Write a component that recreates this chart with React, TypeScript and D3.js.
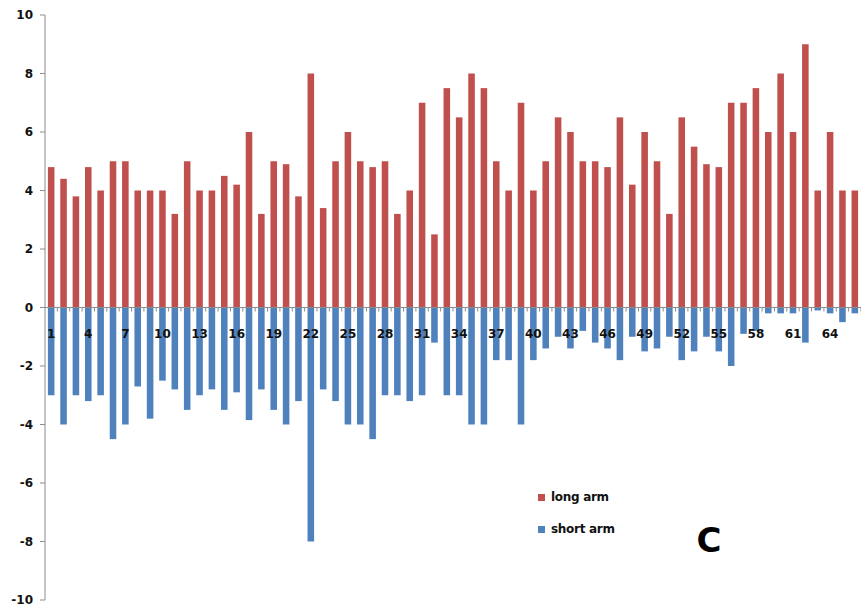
import React from "react";
import * as d3 from "d3";

const categories: number[] = Array.from({ length: 66 }, (_, i) => i + 1);

const longArm: number[] = [
  4.8, 4.4, 3.8, 4.8, 4.0, 5.0, 5.0, 4.0, 4.0, 4.0,
  3.2, 5.0, 4.0, 4.0, 4.5, 4.2, 6.0, 3.2, 5.0, 4.9,
  3.8, 8.0, 3.4, 5.0, 6.0, 5.0, 4.8, 5.0, 3.2, 4.0,
  7.0, 2.5, 7.5, 6.5, 8.0, 7.5, 5.0, 4.0, 7.0, 4.0,
  5.0, 6.5, 6.0, 5.0, 5.0, 4.8, 6.5, 4.2, 6.0, 5.0,
  3.2, 6.5, 5.5, 4.9, 4.8, 7.0, 7.0, 7.5, 6.0, 8.0,
  6.0, 9.0, 4.0, 6.0, 4.0, 4.0,
];

const shortArm: number[] = [
  -3.0, -4.0, -3.0, -3.2, -3.0, -4.5, -4.0, -2.7, -3.8, -2.5,
  -2.8, -3.5, -3.0, -2.8, -3.5, -2.9, -3.85, -2.8, -3.5, -4.0,
  -3.2, -8.0, -2.8, -3.2, -4.0, -4.0, -4.5, -3.0, -3.0, -3.2,
  -3.0, -1.2, -3.0, -3.0, -4.0, -4.0, -1.8, -1.8, -4.0, -1.8,
  -1.4, -1.0, -1.4, -0.8, -1.2, -1.4, -1.8, -1.0, -1.5, -1.4,
  -1.0, -1.8, -1.5, -1.0, -1.5, -2.0, -0.9, -0.8, -0.2, -0.2,
  -0.2, -1.2, -0.1, -0.2, -0.5, -0.2,
];

const yTicks: number[] = [-10, -8, -6, -4, -2, 0, 2, 4, 6, 8, 10];
const xLabelEvery = 3;

const seriesNames = ["long arm", "short arm"];
const seriesColors = ["#C0504D", "#4F81BD"];
const panelLetter = "C";

const W = 861;
const H = 611;
const left = 45;
const right = 861;
const top = 15;
const bottom = 600;

export default function App() {
  const x = d3
    .scaleBand<number>()
    .domain(categories)
    .range([left, right])
    .paddingInner(0.47)
    .paddingOuter(0.235);
  const y = d3.scaleLinear().domain([-10, 10]).range([bottom, top]);
  const y0 = y(0);
  const step = x.step();
  const font = "'DejaVu Sans', Verdana, sans-serif";

  return (
    <svg
      width={W}
      height={H}
      style={{ position: "absolute", left: 0, top: 0, background: "#fff" }}
    >
      <defs>
        <clipPath id="plot">
          <rect x={left} y={0} width={right - left} height={H} />
        </clipPath>
      </defs>

      {/* bars */}
      <g clipPath="url(#plot)">
        {categories.map((c, i) => {
          const bx = x(c)!;
          const vl = longArm[i];
          const vs = shortArm[i];
          return (
            <g key={c}>
              <rect
                x={bx}
                y={y(vl)}
                width={x.bandwidth()}
                height={y0 - y(vl)}
                fill={seriesColors[0]}
              />
              <rect
                x={bx}
                y={y0}
                width={x.bandwidth()}
                height={y(vs) - y0}
                fill={seriesColors[1]}
              />
            </g>
          );
        })}
      </g>

      {/* zero line and category ticks */}
      <line x1={left} x2={right} y1={y0} y2={y0} stroke="#8c8c8c" strokeWidth={1} />
      {categories.map((c, i) => (
        <line
          key={"t" + c}
          x1={left + (i + 1) * step}
          x2={left + (i + 1) * step}
          y1={y0}
          y2={y0 + 4}
          stroke="#8c8c8c"
          strokeWidth={1}
        />
      ))}

      {/* y axis */}
      <line x1={left} x2={left} y1={top} y2={bottom} stroke="#8c8c8c" strokeWidth={1} />
      {yTicks.map((t) => (
        <g key={"y" + t}>
          <line x1={left - 5} x2={left} y1={y(t)} y2={y(t)} stroke="#8c8c8c" strokeWidth={1} />
          <text
            x={33}
            y={y(t)}
            dy="0.35em"
            textAnchor="end"
            fontFamily={font}
            fontWeight="bold"
            fontSize={12}
            fill="#111"
          >
            {t}
          </text>
        </g>
      ))}

      {/* category labels */}
      {categories
        .filter((c) => (c - 1) % xLabelEvery === 0)
        .map((c) => (
          <text
            key={"x" + c}
            x={x(c)! + x.bandwidth() / 2}
            y={334}
            dy="0.35em"
            textAnchor="middle"
            fontFamily={font}
            fontWeight="bold"
            fontSize={12}
            fill="#111"
          >
            {c}
          </text>
        ))}

      {/* legend */}
      {seriesNames.map((name, i) => (
        <g key={name} transform={`translate(538, ${497 + i * 32})`}>
          <rect x={0} y={-3} width={7} height={7} fill={seriesColors[i]} />
          <text
            x={13}
            y={0}
            dy="0.35em"
            fontFamily={font}
            fontWeight="bold"
            fontSize={12}
            fill="#111"
            letterSpacing={-0.3}
          >
            {name}
          </text>
        </g>
      ))}

      <text
        x={709}
        y={552}
        textAnchor="middle"
        fontFamily={font}
        fontWeight="bold"
        fontSize={34}
        fill="#000"
      >
        {panelLetter}
      </text>
    </svg>
  );
}
